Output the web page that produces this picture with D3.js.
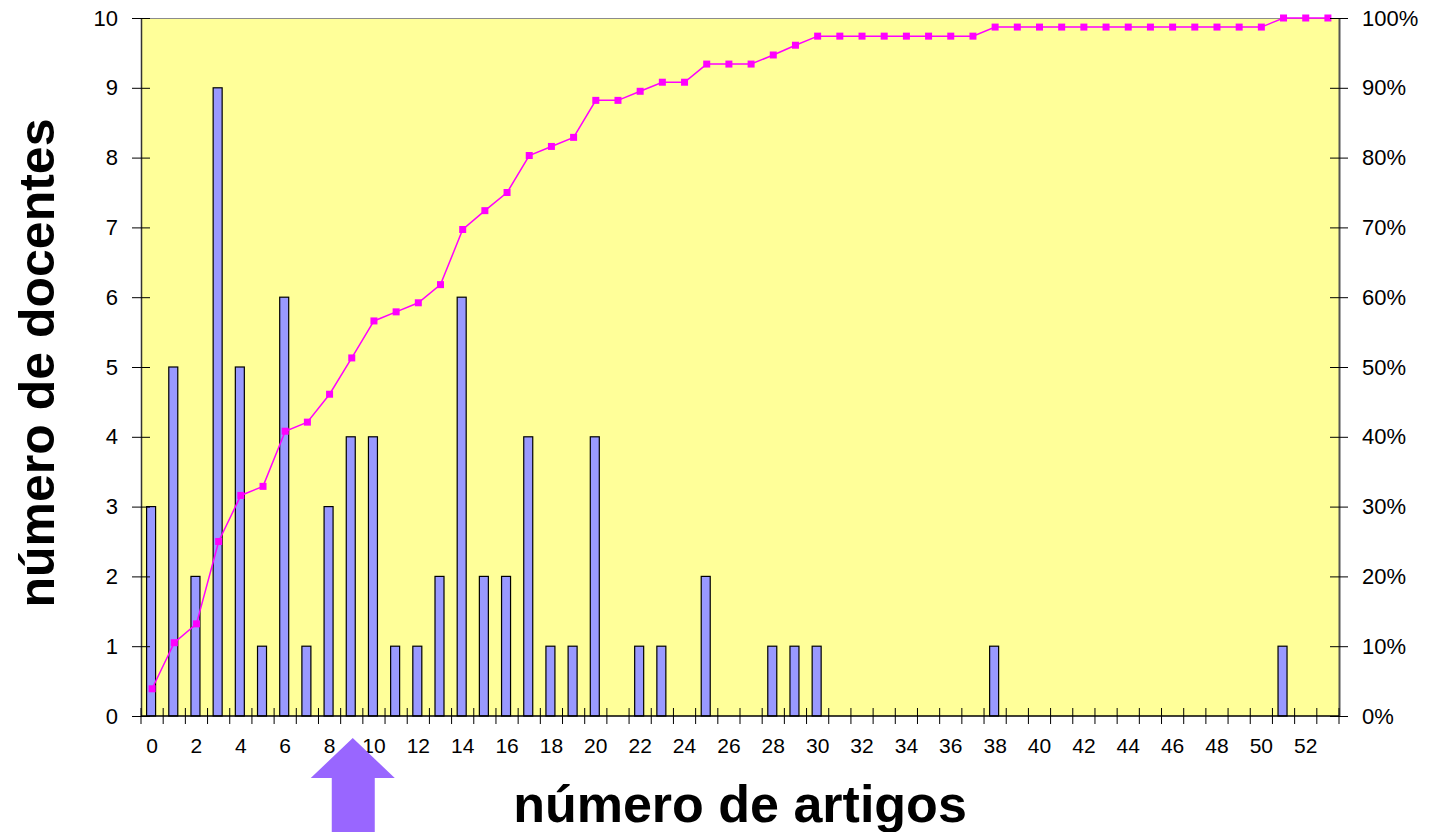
<!DOCTYPE html>
<html>
<head>
<meta charset="utf-8">
<script src="https://cdn.jsdelivr.net/npm/d3@7"></script>
<style>
  body { margin: 0; background: #fff; }
  text { font-family: "Liberation Sans", Arial, sans-serif; }
</style>
</head>
<body>
<script>
(function(){

//data
var artigos = d3.range(0, 54); //categories 0..53
var docentes = [3,5,2,9,5,1,6,1,3,4, 4,1,1,2,6,2,2,4,1,1,
                 4,0,1,1,0,2,0,0,1,1, 1,0,0,0,0,0,0,0,1,0,
                 0,0,0,0,0,0,0,0,0,0, 0,1,0,0];
var acumulado = [3.9,10.5,13.2,25.0,31.6,32.9,40.8,42.1,46.1,51.3,
                 56.6,57.9,59.2,61.8,69.7,72.4,75.0,80.3,81.6,82.9,
                 88.2,88.2,89.5,90.8,90.8,93.4,93.4,93.4,94.7,96.1,
                 97.4,97.4,97.4,97.4,97.4,97.4,97.4,97.4,98.7,98.7,
                 98.7,98.7,98.7,98.7,98.7,98.7,98.7,98.7,98.7,98.7,
                 98.7,100,100,100];
var leftTicks = d3.range(0, 11);
var rightTicks = d3.range(0, 101, 10);
var xLabelCats = d3.range(0, 53, 2);

var width = 1441, height = 832;
var margin = {top: 18, right: 102, bottom: 116, left: 141};
var innerW = width - margin.left - margin.right,
    innerH = height - margin.top - margin.bottom;

var svg = d3.select("body").append("svg")
    .attr("width", width)
    .attr("height", height);

var g = svg.append("g")
    .attr("transform", "translate(" + margin.left + "," + margin.top + ")");

//scales
var x = d3.scaleBand().domain(artigos).range([0, innerW]);
var barW = 9;
var cx = function(a){ return x(a) + x.bandwidth() / 2; };

var y = d3.scaleLinear().domain([0, 10]).range([innerH, 0]);
var y2 = d3.scaleLinear().domain([0, 100]).range([innerH, 0]);

//plot background
g.append("rect")
    .attr("width", innerW)
    .attr("height", innerH)
    .attr("fill", "#FFFF99");

//top border
g.append("line")
    .attr("x1", 0).attr("x2", innerW)
    .attr("y1", 0.5).attr("y2", 0.5)
    .attr("stroke", "#8c8c8c").attr("stroke-width", 1);

//bars
var barData = artigos.map(function(a, i){ return {a: a, v: docentes[i]}; })
    .filter(function(d){ return d.v > 0; });

g.selectAll(".bar")
    .data(barData)
    .enter()
    .append("rect")
    .attr("class", "bar")
    .attr("x", function(d){ return cx(d.a) - barW / 2 - 1; })
    .attr("y", function(d){ return y(d.v); })
    .attr("width", barW)
    .attr("height", function(d){ return innerH - y(d.v); })
    .attr("fill", "#9999FF")
    .attr("stroke", "#000")
    .attr("stroke-width", 1.2);

//cumulative line
var lineData = artigos.map(function(a, i){ return {a: a, v: acumulado[i]}; });
var line = d3.line()
    .x(function(d){ return cx(d.a); })
    .y(function(d){ return y2(d.v); });

g.append("path")
    .datum(lineData)
    .attr("d", line)
    .attr("fill", "none")
    .attr("stroke", "#FF00FF")
    .attr("stroke-width", 1.5);

g.selectAll(".marker")
    .data(lineData)
    .enter()
    .append("rect")
    .attr("class", "marker")
    .attr("x", function(d){ return cx(d.a) - 3.5; })
    .attr("y", function(d){ return y2(d.v) - 3.5; })
    .attr("width", 7)
    .attr("height", 7)
    .attr("fill", "#FF00FF");

//left axis
var yAxis = d3.axisLeft(y).tickValues(leftTicks).tickSizeInner(9).tickSizeOuter(0).tickPadding(14);
var gy = g.append("g").call(yAxis);
gy.select(".domain").attr("stroke", "#333").attr("stroke-width", 1.5);
gy.selectAll(".tick line").attr("x2", 9).attr("x1", -9).attr("stroke", "#000");
gy.selectAll(".tick text").attr("font-size", 22).attr("fill", "#000")
    .attr("font-family", "Liberation Sans, Arial, sans-serif");

//right axis
var yAxis2 = d3.axisRight(y2).tickValues(rightTicks).tickSizeInner(9).tickSizeOuter(0).tickPadding(14)
    .tickFormat(function(d){ return d + "%"; });
var gy2 = g.append("g").attr("transform", "translate(" + innerW + ",0)").call(yAxis2);
gy2.select(".domain").attr("stroke", "#555").attr("stroke-width", 2);
gy2.selectAll(".tick line").attr("x1", -9).attr("x2", 9).attr("stroke", "#000");
gy2.selectAll(".tick text").attr("font-size", 22).attr("fill", "#000")
    .attr("font-family", "Liberation Sans, Arial, sans-serif");

//bottom axis: labels on even categories, ticks at category boundaries
var xAxis = d3.axisBottom(x).tickValues(xLabelCats).tickSize(0).tickPadding(22);
var gx = g.append("g").attr("transform", "translate(0," + innerH + ")").call(xAxis);
gx.select(".domain").remove();
gx.selectAll(".tick text").attr("font-size", 21).attr("fill", "#000")
    .attr("font-family", "Liberation Sans, Arial, sans-serif");

gx.append("line")
    .attr("x1", 0).attr("x2", innerW)
    .attr("stroke", "#000").attr("stroke-width", 1.5);

gx.selectAll(".boundary")
    .data(d3.range(0, artigos.length + 1))
    .enter()
    .append("line")
    .attr("class", "boundary")
    .attr("x1", function(d){ return d * x.step(); })
    .attr("x2", function(d){ return d * x.step(); })
    .attr("y1", -8).attr("y2", 8)
    .attr("stroke", "#000").attr("stroke-width", 1);

//axis titles
svg.append("text")
    .attr("transform", "translate(54,363) rotate(-90)")
    .attr("text-anchor", "middle")
    .attr("font-size", 50)
    .attr("font-weight", "bold")
    .attr("fill", "#000")
    .text("número de docentes");

svg.append("text")
    .attr("x", 740)
    .attr("y", 822)
    .attr("text-anchor", "middle")
    .attr("font-size", 52)
    .attr("font-weight", "bold")
    .attr("fill", "#000")
    .text("número de artigos");

//arrow pointing up at category 9
var ax = margin.left + cx(9) + 1,
    tipY = 738;
svg.append("path")
    .attr("d", "M" + ax + "," + tipY +
        " L" + (ax + 42) + "," + (tipY + 40) +
        " L" + (ax + 22) + "," + (tipY + 40) +
        " L" + (ax + 22) + "," + height +
        " L" + (ax - 21) + "," + height +
        " L" + (ax - 21) + "," + (tipY + 40) +
        " L" + (ax - 42) + "," + (tipY + 40) + " Z")
    .attr("fill", "#9966FF");

})();
</script>
</body>
</html>
